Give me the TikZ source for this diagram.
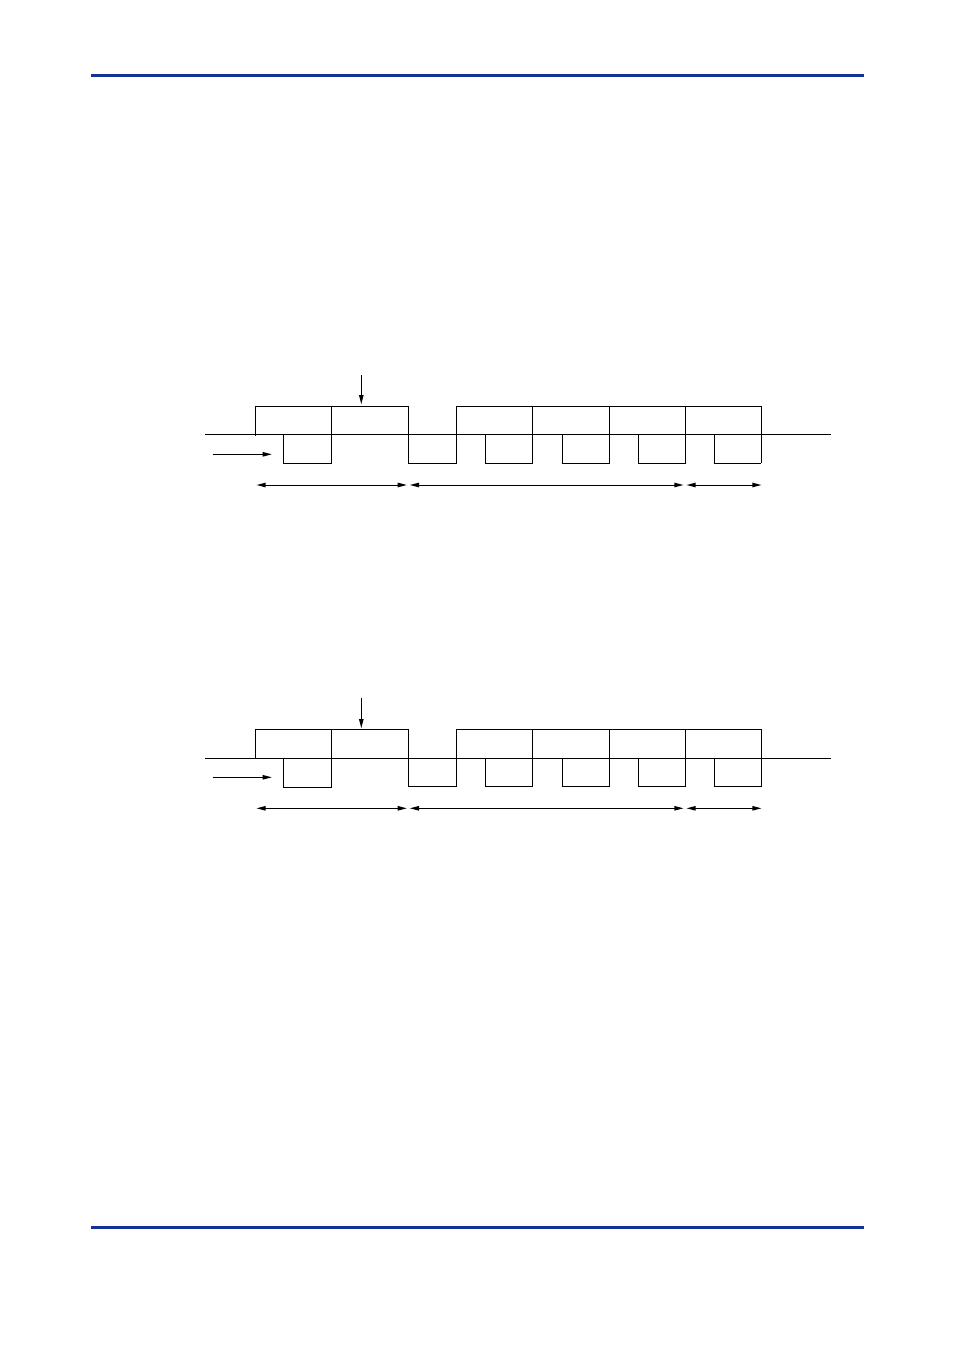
\documentclass[tikz,border=0pt]{standalone}
\definecolor{rulecolor}{RGB}{18,50,150}

\begin{document}
\begin{tikzpicture}[x=0.02201cm,y=0.02201cm]
        \useasboundingbox (0,0) rectangle (954,-1351);
        \tikzstyle{every path}+=[line width=0.6pt]
        % page rules
        \draw [rulecolor, line width=1.9pt] (91,-75.2) -- (864,-75.2);
        \draw [rulecolor, line width=1.9pt] (91,-1227.8) -- (864,-1227.8);
        % first diagram
        \draw [black] (205,-434) -- (830.7,-434);
        \draw [black] (255,-436) -- (255,-406.7) -- (408.3,-406.7) -- (408.3,-463) -- (456.3,-463) -- (456.3,-406.7) -- (761.3,-406.7) -- (761.3,-463);
        \draw [black] (331.7,-406.7) -- (331.7,-463) -- (283.3,-463) -- (283.3,-434);
        \draw [black] (532.3,-406.7) -- (532.3,-463) -- (485.7,-463) -- (485.7,-434);
        \draw [black] (609.3,-406.7) -- (609.3,-463) -- (562.3,-463) -- (562.3,-434);
        \draw [black] (685.7,-406.7) -- (685.7,-463) -- (638.3,-463) -- (638.3,-434);
        \draw [black] (761.3,-463) -- (714.3,-463) -- (714.3,-434);
        \draw [black] (361.3,-375) -- (361.3,-397);
        \fill [black] (361.3,-404) -- (358.9,-395) -- (363.7,-395);
        \draw [black] (212.7,-454.3) -- (265,-454.3);
        \fill [black] (271.7,-454.3) -- (262.7,-451.9) -- (262.7,-456.7);
        \draw [black] (262,-485) -- (401,-485);
        \fill [black] (256.7,-485) -- (265.7,-482.6) -- (265.7,-487.4);
        \fill [black] (406.7,-485) -- (397.7,-482.6) -- (397.7,-487.4);
        \draw [black] (415,-485) -- (678,-485);
        \fill [black] (410,-485) -- (419,-482.6) -- (419,-487.4);
        \fill [black] (683.3,-485) -- (674.3,-482.6) -- (674.3,-487.4);
        \draw [black] (692,-485) -- (756,-485);
        \fill [black] (686.7,-485) -- (695.7,-482.6) -- (695.7,-487.4);
        \fill [black] (761.3,-485) -- (752.3,-482.6) -- (752.3,-487.4);
        % second diagram
        \draw [black] (205,-758) -- (830.7,-758);
        \draw [black] (255,-758) -- (255,-729) -- (408.3,-729) -- (408.3,-786.5) -- (456.3,-786.5) -- (456.3,-729) -- (761.3,-729) -- (761.3,-786.5);
        \draw [black] (331.7,-729) -- (331.7,-787.3) -- (283.3,-787.3) -- (283.3,-758);
        \draw [black] (532.3,-729) -- (532.3,-786.5) -- (485.7,-786.5) -- (485.7,-758);
        \draw [black] (609.3,-729) -- (609.3,-786.5) -- (562.3,-786.5) -- (562.3,-758);
        \draw [black] (685.7,-729) -- (685.7,-786.5) -- (638.3,-786.5) -- (638.3,-758);
        \draw [black] (761.3,-786.5) -- (714.3,-786.5) -- (714.3,-758);
        \draw [black] (361.3,-697.7) -- (361.3,-721);
        \fill [black] (361.3,-728) -- (358.9,-719) -- (363.7,-719);
        \draw [black] (212.7,-777.3) -- (265,-777.3);
        \fill [black] (271.7,-777.3) -- (262.7,-774.9) -- (262.7,-779.7);
        \draw [black] (262,-808.3) -- (401,-808.3);
        \fill [black] (256.7,-808.3) -- (265.7,-805.9) -- (265.7,-810.7);
        \fill [black] (406.7,-808.3) -- (397.7,-805.9) -- (397.7,-810.7);
        \draw [black] (415,-808.3) -- (678,-808.3);
        \fill [black] (410,-808.3) -- (419,-805.9) -- (419,-810.7);
        \fill [black] (683.3,-808.3) -- (674.3,-805.9) -- (674.3,-810.7);
        \draw [black] (692,-808.3) -- (756,-808.3);
        \fill [black] (686.7,-808.3) -- (695.7,-805.9) -- (695.7,-810.7);
        \fill [black] (761.3,-808.3) -- (752.3,-805.9) -- (752.3,-810.7);
\end{tikzpicture}
\end{document}
